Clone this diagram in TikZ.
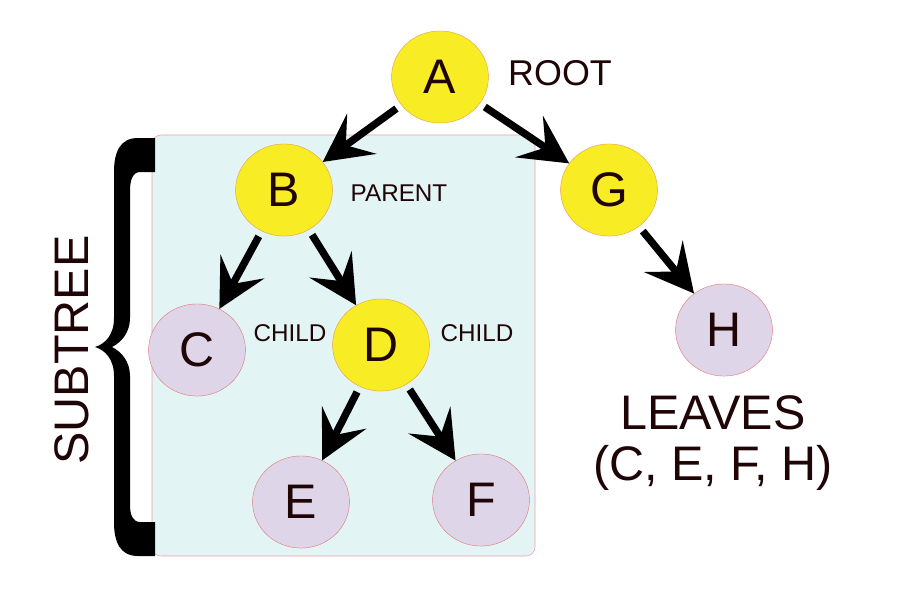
\documentclass[tikz,border=0pt]{standalone}
\usepackage{fontspec}
\setmainfont{Liberation Sans}
\usetikzlibrary{arrows.meta,shapes.geometric}
\definecolor{nodeyellow}{HTML}{F8EC24}
\definecolor{yellowedge}{HTML}{E8A048}
\definecolor{leaflilac}{HTML}{DFD5E8}
\definecolor{leafedge}{HTML}{E07A7A}
\definecolor{boxcyan}{HTML}{E3F4F5}
\definecolor{boxedge}{HTML}{F0A0A0}
\definecolor{inkdark}{HTML}{1F0505}
\begin{document}
\begin{tikzpicture}[
  x=0.3333mm, y=-0.3333mm,
  vertex/.style={ellipse, draw, line width=0.4pt, minimum width=3.23cm, minimum height=3.07cm, inner sep=0pt, text=inkdark, font=\fontsize{46}{46}\selectfont},
  inner/.style={vertex, fill=nodeyellow, draw=yellowedge},
  leaf/.style={vertex, fill=leaflilac, draw=leafedge},
  link/.style={-{Stealth[length=16mm, width=16.5mm, inset=6.5mm]}, line width=7pt, shorten <=0.2cm},
  tag/.style={text=inkdark, inner sep=0pt},
  big/.style={tag, font=\fontsize{46}{46}\selectfont},
  small/.style={tag, font=\fontsize{23}{23}\selectfont}
]
  \useasboundingbox (0,0) rectangle (900,600);
  % subtree frame and brace
  \draw[fill=boxcyan, draw=boxedge, line width=0.5pt, rounded corners=3mm] (152,135) rectangle (535,556);
  \fill[black] (155,138) -- (138,138) .. controls (120,138) and (114,152) .. (114,172) -- (114,318)
    .. controls (114,335) and (105,344) .. (95,347) .. controls (105,350) and (114,359) .. (114,376)
    -- (114,522) .. controls (114,542) and (120,556) .. (138,556) -- (155,556) -- (155,522) -- (140,522)
    .. controls (133,522) and (130,515) .. (130,505) -- (130,376) .. controls (130,362) and (122,352) .. (112,347)
    .. controls (122,342) and (130,332) .. (130,318) -- (130,190) .. controls (130,180) and (133,172) .. (140,172)
    -- (155,172) -- cycle;
  \node[big, rotate=90] (subtree) at (72,350) {SUBTREE};

  % tree nodes
  \node[inner] (A) at (440,77) {A};
  \node[inner] (B) at (284,190) {B};
  \node[inner] (G) at (609,190) {G};
  \node[leaf] (C) at (197,350) {C};
  \node[inner] (D) at (381,345) {D};
  \node[leaf] (H) at (724,330) {H};
  \node[leaf] (E) at (301,502) {E};
  \node[leaf] (F) at (481,500) {F};

  \draw[link] (A) -- (B);
  \draw[link] (A) -- (G);
  \draw[link] (B) -- (C);
  \draw[link] (B) -- (D);
  \draw[link] (D) -- (E);
  \draw[link] (D) -- (F);
  \draw[link] (G) -- (H);

  % labels
  \node[tag, font=\fontsize{34}{34}\selectfont] (root) at (560,73) {ROOT};
  \node[small] (parent) at (399,193) {PARENT};
  \node[small] (childC) at (290,333) {CHILD};
  \node[small] (childD) at (477,333) {CHILD};
  \node[big] (leaves) at (713,413) {LEAVES};
  \node[big] (leaflist) at (713,468) {(C, E, F, H)};
\end{tikzpicture}
\end{document}
